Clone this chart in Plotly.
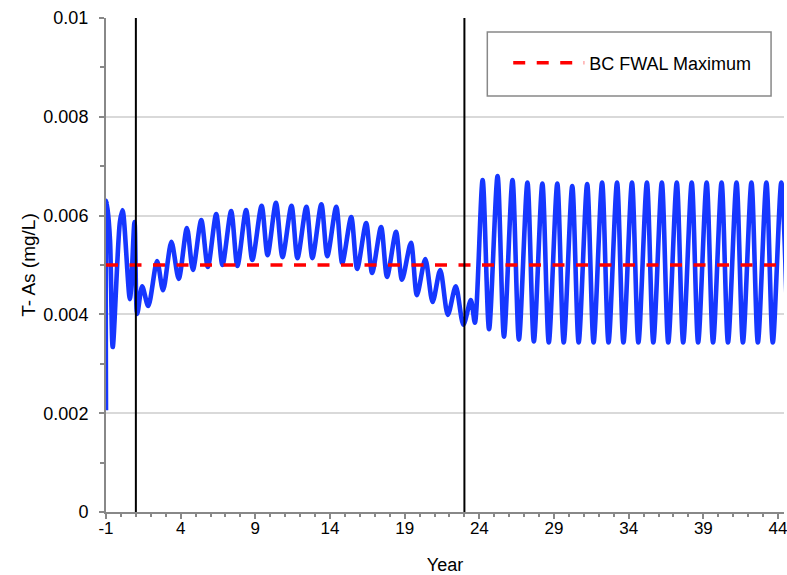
import plotly.graph_objects as go

# Total arsenic concentration over time: turning points (peaks / troughs) of the seasonal cycle
years = [
    -1.00, -0.95, -0.73, -0.55, -0.07, 0.11, 0.60, 0.91, 1.09, 1.42, 1.83,
    2.42, 2.82, 3.38, 3.87, 4.42, 4.82, 5.38, 5.82, 6.38, 6.80,
    7.38, 7.80, 8.38, 8.80, 9.42, 9.82, 10.38, 10.82, 11.42, 11.82,
    12.42, 12.82, 13.42, 13.82, 14.42, 14.82, 15.42, 15.82, 16.42, 16.82,
    17.42, 17.82, 18.42, 18.82, 19.42, 19.82, 20.38, 20.87, 21.38, 21.89,
    22.42, 22.93, 23.43, 23.70,
    24.22, 24.65, 25.22, 25.65, 26.22, 26.65, 27.22, 27.65, 28.22, 28.65,
    29.22, 29.65, 30.22, 30.65, 31.22, 31.65, 32.22, 32.65, 33.22, 33.65,
    34.22, 34.65, 35.22, 35.65, 36.22, 36.65, 37.22, 37.65, 38.22, 38.65,
    39.22, 39.65, 40.22, 40.65, 41.22, 41.65, 42.22, 42.65, 43.22, 43.65,
    44.22, 44.65,
]
t_as = [
    0.00206, 0.00630, 0.00550, 0.00334, 0.00587, 0.00611, 0.00431, 0.00587, 0.00401, 0.00457, 0.00417,
    0.00508, 0.00449, 0.00547, 0.00472, 0.00575, 0.00490, 0.00591, 0.00496, 0.00603, 0.00500,
    0.00609, 0.00498, 0.00611, 0.00510, 0.00620, 0.00520, 0.00626, 0.00516, 0.00620, 0.00514,
    0.00618, 0.00514, 0.00623, 0.00518, 0.00618, 0.00504, 0.00597, 0.00492, 0.00585, 0.00484,
    0.00577, 0.00476, 0.00567, 0.00470, 0.00545, 0.00439, 0.00512, 0.00425, 0.00490, 0.00399,
    0.00457, 0.00379, 0.00429, 0.00383,
    0.00672, 0.00370, 0.00680, 0.00355, 0.00672, 0.00349, 0.00667, 0.00345, 0.00665, 0.00343,
    0.00665, 0.00343, 0.00660, 0.00343, 0.00664, 0.00343, 0.00667, 0.00343, 0.00667, 0.00343,
    0.00667, 0.00343, 0.00667, 0.00343, 0.00667, 0.00343, 0.00667, 0.00343, 0.00667, 0.00343,
    0.00667, 0.00343, 0.00667, 0.00343, 0.00667, 0.00343, 0.00667, 0.00343, 0.00667, 0.00343,
    0.00667, 0.00343,
]

# Guideline and phase boundaries
bc_fwal_max = 0.005
guideline_span = [-1, 44.4]
phase_bounds = [1, 23]

x_ticks = [-1, 4, 9, 14, 19, 24, 29, 34, 39, 44]
x_tick_text = ["-1", "4", "9", "14", "19", "24", "29", "34", "39", "44"]
y_ticks = [0, 0.002, 0.004, 0.006, 0.008, 0.01]
y_tick_text = ["0", "0.002", "0.004", "0.006", "0.008", "0.01"]

FONT = "Liberation Sans, Arial, sans-serif"

fig = go.Figure()

fig.add_trace(go.Scatter(
    x=years, y=t_as, mode="lines", name="T- As",
    line=dict(color="#1637FF", width=4.6, shape="spline", smoothing=0.8),
    showlegend=False,
))

fig.add_trace(go.Scatter(
    x=guideline_span, y=[bc_fwal_max] * len(guideline_span), mode="lines",
    name="BC FWAL Maximum",
    line=dict(color="#FF0000", width=3.5, dash="12px,11.5px"),
))

bx, by = [], []
for b in phase_bounds:
    bx += [b, b, None]
    by += [y_ticks[0], y_ticks[-1], None]
fig.add_trace(go.Scatter(
    x=bx, y=by, mode="lines", line=dict(color="#000000", width=2),
    showlegend=False, hoverinfo="skip",
))

fig.update_layout(
    width=787, height=575,
    margin=dict(l=106, r=0, t=18, b=63),
    paper_bgcolor="white", plot_bgcolor="white",
    font=dict(family=FONT, size=18, color="#000000"),
    showlegend=True,
    legend=dict(
        x=(510 - 106) / 681, y=(512 - 63) / 494, xanchor="left", yanchor="middle",
        bgcolor="rgba(0,0,0,0)", borderwidth=0, itemwidth=71,
        font=dict(family=FONT, size=18, color="#000000"),
    ),
    shapes=[dict(
        type="rect", xref="paper", yref="paper",
        x0=(489 - 106) / 681, x1=(774 - 106) / 681,
        y0=(512 - 96) / 494, y1=(512 - 32) / 494,
        line=dict(color="#888888", width=1.5), fillcolor="rgba(0,0,0,0)", layer="above",
    )],
)

fig.update_xaxes(
    range=[-1, 44.4], tickmode="array", tickvals=x_ticks, ticktext=x_tick_text,
    ticks="outside", ticklen=5, tickwidth=1.5, tickcolor="#888888",
    showline=True, linecolor="#888888", linewidth=2,
    showgrid=False, zeroline=False,
    minor=dict(dtick=1, tick0=-1, ticks="outside", ticklen=3, tickcolor="#888888", showgrid=False),
    tickfont=dict(family=FONT, size=17, color="#000000"),
    ticklabelstandoff=-5, ticklabeloverflow="allow",
    title=dict(text="Year", font=dict(family=FONT, size=18, color="#000000"), standoff=23),
)

fig.update_yaxes(
    range=[0, 0.01], tickmode="array", tickvals=y_ticks, ticktext=y_tick_text,
    ticks="outside", ticklen=5, tickwidth=1.5, tickcolor="#888888",
    showline=True, linecolor="#888888", linewidth=2,
    showgrid=True, gridcolor="#D9D9D9", gridwidth=2, zeroline=False,
    minor=dict(dtick=0.001, tick0=0, ticks="outside", ticklen=4, tickcolor="#888888", showgrid=False),
    tickfont=dict(family=FONT, size=18, color="#000000"),
    ticklabelstandoff=7,
    title=dict(text="T- As (mg/L)", font=dict(family=FONT, size=19, color="#000000"), standoff=3),
)

fig.write_html("out.html")
